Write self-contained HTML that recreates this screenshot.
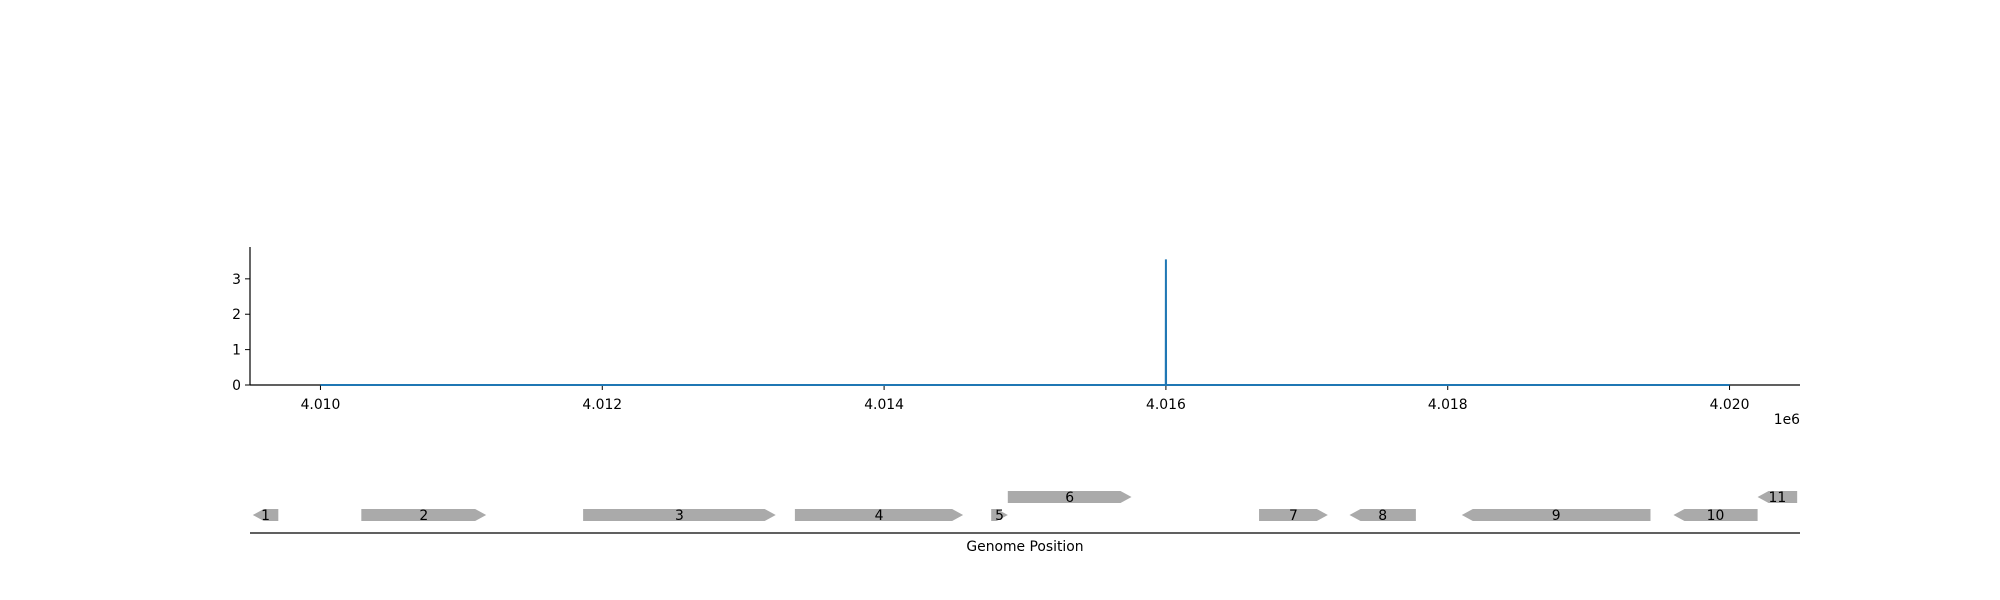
<!DOCTYPE html>
<html><head><meta charset="utf-8"><style>body{margin:0;background:#fff}svg{display:block;font-family:"DejaVu Sans","Liberation Sans",sans-serif}</style></head>
<body>
<svg id="c" width="2000" height="600" xmlns="http://www.w3.org/2000/svg"></svg>
<script>
const xTicks=[4010000,4012000,4014000,4016000,4018000,4020000];
const xTickLabels=["4.010","4.012","4.014","4.016","4.018","4.020"];
const yTicks=[0,1,2,3];
const covPos=[4010000,4015999,4016000,4016001,4020000];
const covVal=[0,0,3.55,0,0];
const geneNames=["1","2","3","4","5","6","7","8","9","10","11"];
const geneStart=[4009520,4010290,4011864,4013367,4014760,4014878,4016661,4017303,4018100,4019602,4020199];
const geneEnd=[4009701,4011176,4013231,4014561,4014878,4015756,4017149,4017774,4019439,4020199,4020480];
const geneStrand=[-1,1,1,1,1,1,1,-1,-1,-1,-1];
const geneRow=[0,0,0,0,0,1,0,0,0,0,1];

const NS="http://www.w3.org/2000/svg",svg=document.getElementById('c');
const X0=250,X1=1800,D0=4009500,D1=4020500;
const xs=v=>X0+(v-D0)/(D1-D0)*(X1-X0);
const Y0=385,YT=247,YMAX=3.9;
const ys=v=>Y0-v/YMAX*(Y0-YT);
const FS=13.9;
function mk(t,a,txt){const e=document.createElementNS(NS,t);for(const k in a)e.setAttribute(k,a[k]);if(txt!=null)e.textContent=txt;svg.appendChild(e);return e;}
let e;
e=mk('line',{x1:X0,y1:YT,x2:X0,y2:Y0,stroke:'#000','stroke-width':1.2});


e=mk('line',{x1:X0,y1:Y0,x2:X1,y2:Y0,stroke:'#000','stroke-width':1.2});


yTicks.forEach(v=>{
 e=mk('line',{x1:X0-5,y1:ys(v),x2:X0,y2:ys(v),stroke:'#000','stroke-width':1});
 
 
 e=mk('text',{x:X0-9,y:ys(v)+5,'text-anchor':'end','font-size':FS},String(v));
 
 
});
xTicks.forEach((v,i)=>{
 e=mk('line',{x1:xs(v),y1:Y0,x2:xs(v),y2:Y0+5,stroke:'#000','stroke-width':1});
 
 
 e=mk('text',{x:xs(v),y:Y0+24,'text-anchor':'middle','font-size':FS},xTickLabels[i]);
 
 
});
e=mk('text',{x:1800,y:424,'text-anchor':'end','font-size':FS},'1e6');


e=mk('polyline',{points:covPos.map((p,i)=>xs(p)+','+ys(covVal[i])).join(' '),fill:'none',stroke:'#1f77b4','stroke-width':2});


const GB=[521,503],GH=12,HL=11;
geneNames.forEach((n,i)=>{
 const a=xs(geneStart[i]),b=xs(geneEnd[i]),yb=GB[geneRow[i]],yt=yb-GH,ym=yb-GH/2;
 const h=Math.min(HL,b-a);let pts;
 if(geneStrand[i]>0)pts=[[a,yt],[b-h,yt],[b,ym],[b-h,yb],[a,yb]];
 else pts=[[a+h,yt],[b,yt],[b,yb],[a+h,yb],[a,ym]];
 e=mk('polygon',{points:pts.map(p=>p.join(',')).join(' '),fill:'#aaaaaa'});
 
 
 e=mk('text',{x:(a+b)/2,y:ym+5,'text-anchor':'middle','font-size':FS},n);
 
 
});
e=mk('line',{x1:X0,y1:533,x2:X1,y2:533,stroke:'#000','stroke-width':1.2});


e=mk('text',{x:1025,y:551,'text-anchor':'middle','font-size':FS},'Genome Position');


</script>
</body></html>
